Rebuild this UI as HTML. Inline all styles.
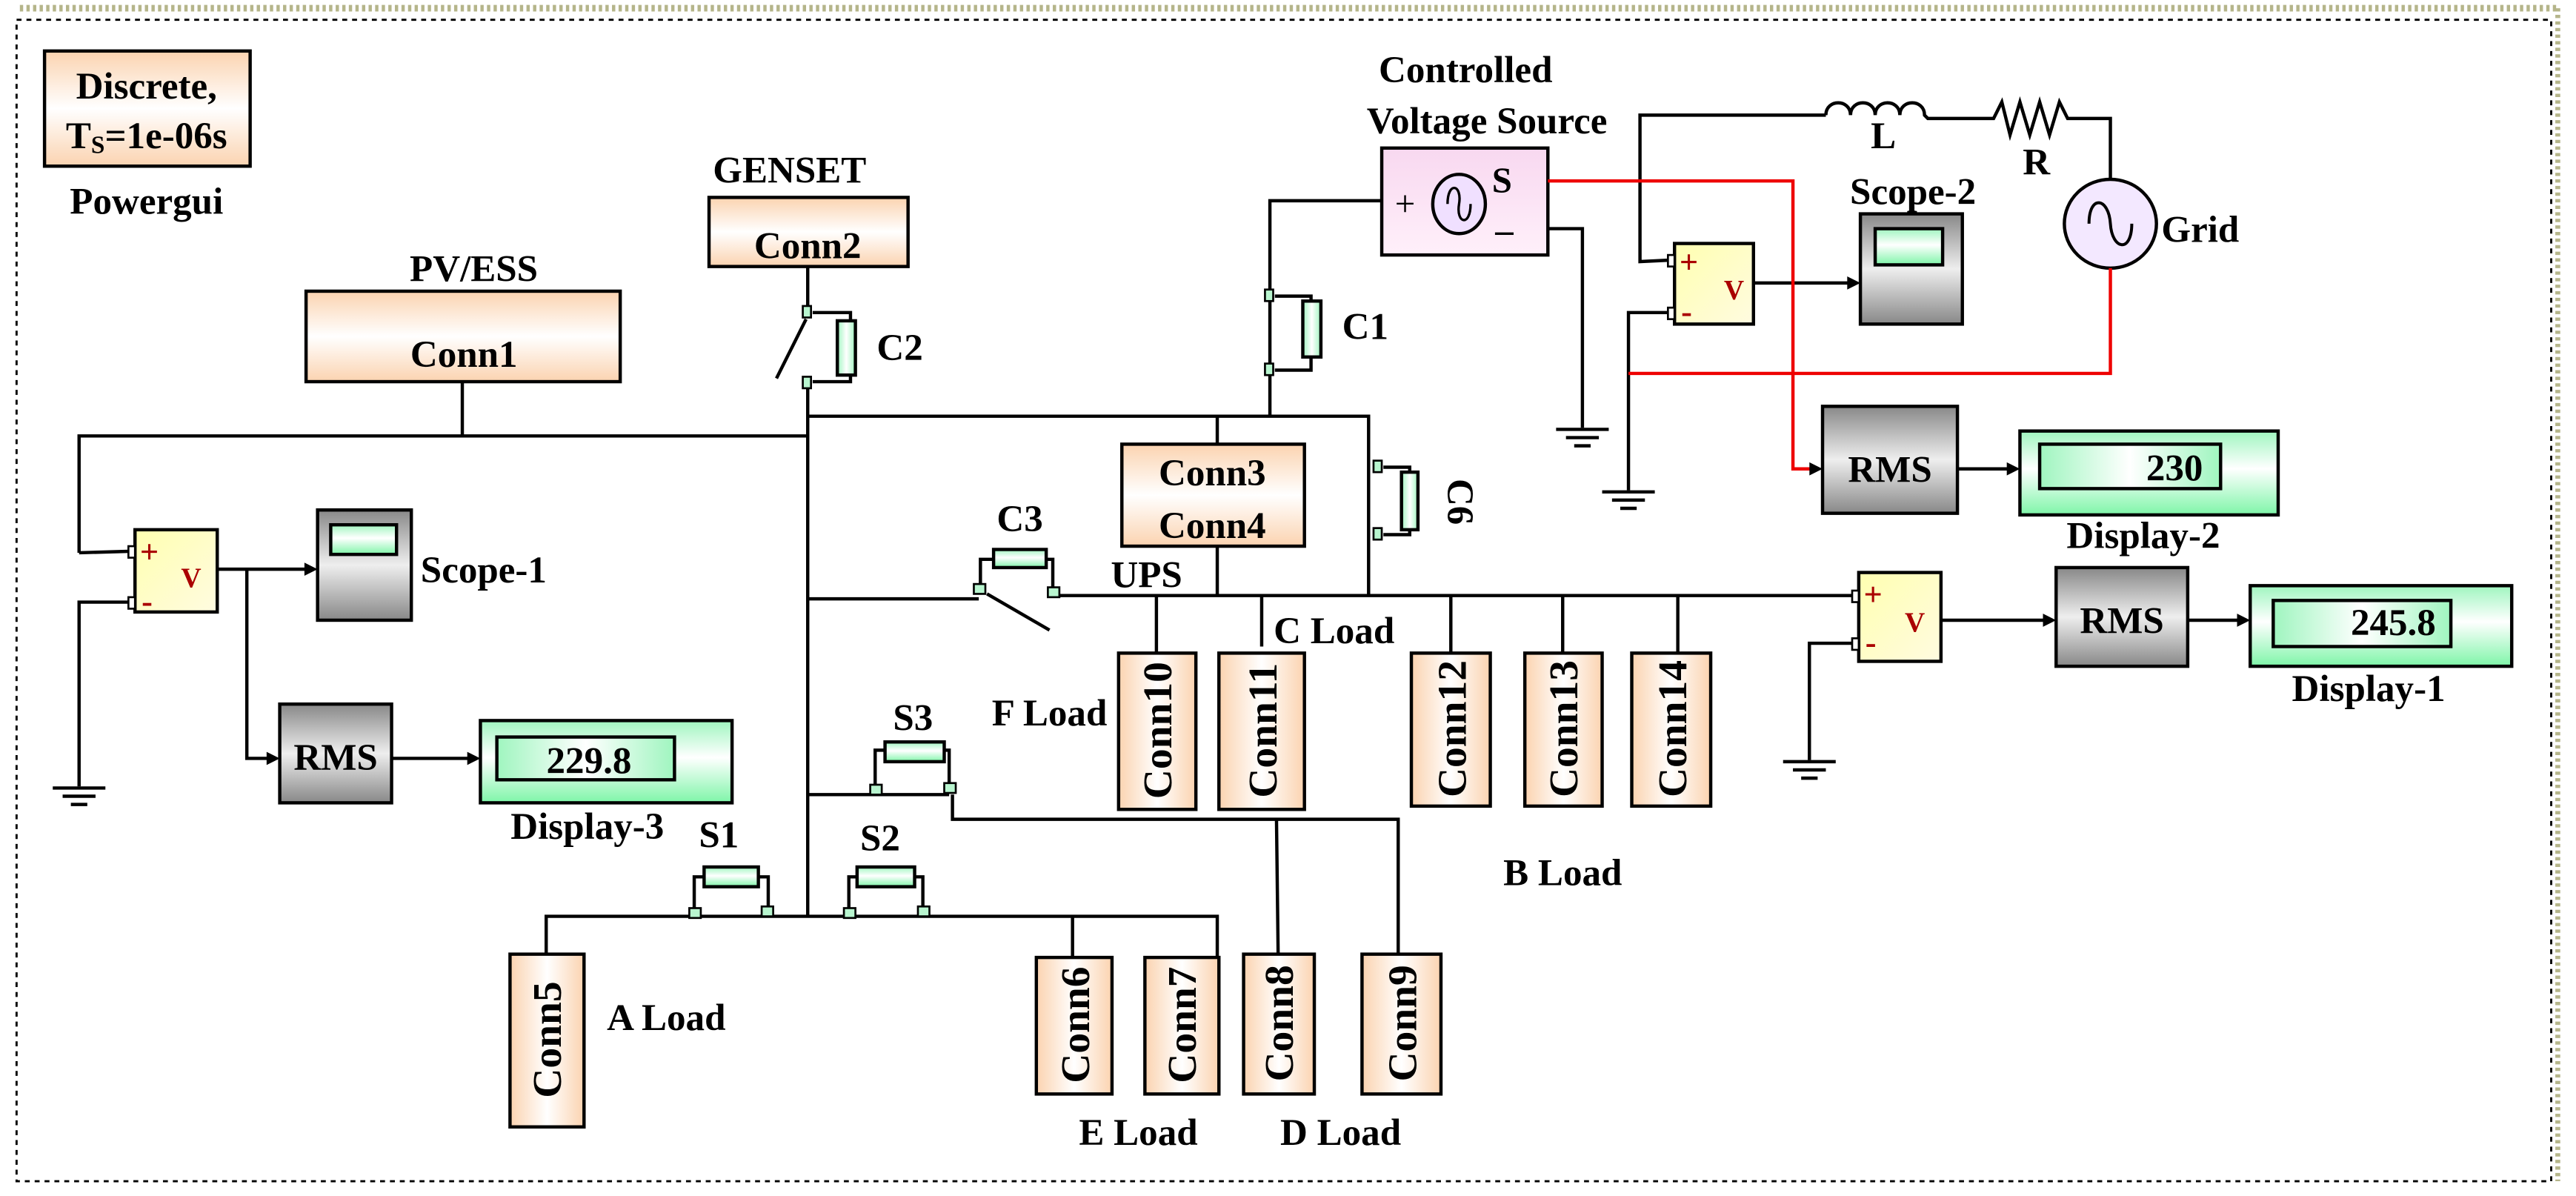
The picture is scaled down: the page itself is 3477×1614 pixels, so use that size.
<!DOCTYPE html>
<html><head><meta charset="utf-8"><style>
html,body{margin:0;padding:0;background:#fff;}
svg{display:block;}
text{font-family:"Liberation Serif",serif;font-weight:bold;fill:#000;}
</style></head><body>
<svg width="3477" height="1614" viewBox="0 0 1566 727" xmlns="http://www.w3.org/2000/svg">
<defs>
<linearGradient id="peach" x1="0" y1="0" x2="0" y2="1"><stop offset="0" stop-color="#fbd3b0"/><stop offset="0.5" stop-color="#fff"/><stop offset="1" stop-color="#fbd3b0"/></linearGradient>
<linearGradient id="peachH" x1="0" y1="0" x2="1" y2="0"><stop offset="0" stop-color="#fbd3b0"/><stop offset="0.5" stop-color="#fff"/><stop offset="1" stop-color="#fbd3b0"/></linearGradient>
<linearGradient id="green" x1="0" y1="0" x2="0" y2="1"><stop offset="0" stop-color="#9ff5bf"/><stop offset="0.45" stop-color="#fff"/><stop offset="1" stop-color="#7ef5a8"/></linearGradient>
<linearGradient id="greenH" x1="0" y1="0" x2="1" y2="0"><stop offset="0" stop-color="#9ff5bf"/><stop offset="0.5" stop-color="#fff"/><stop offset="1" stop-color="#9ff5bf"/></linearGradient>
<linearGradient id="gray" x1="0" y1="0" x2="0" y2="1"><stop offset="0" stop-color="#888"/><stop offset="0.5" stop-color="#eee"/><stop offset="1" stop-color="#888"/></linearGradient>
<linearGradient id="yel" x1="0" y1="0" x2="1" y2="1"><stop offset="0" stop-color="#ffffb0"/><stop offset="1" stop-color="#fffbe0"/></linearGradient>
<linearGradient id="pink" x1="0" y1="0" x2="0" y2="1"><stop offset="0" stop-color="#f8d8f0"/><stop offset="1" stop-color="#fff0fa"/></linearGradient>
</defs>
<!-- borders -->
<line x1="12" y1="5" x2="1555" y2="5" stroke="#b5b58a" stroke-width="4" stroke-dasharray="2,2"/>
<line x1="1555" y1="5" x2="1555" y2="718" stroke="#b5b58a" stroke-width="3" stroke-dasharray="2,2"/>
<rect x="10" y="12" width="1541" height="706" fill="none" stroke="#000" stroke-width="1.3" stroke-dasharray="3,3"/>

<g stroke="#000" stroke-width="2" fill="none">
<rect x="27" y="31" width="125" height="70" fill="url(#peach)"/>
<rect x="186" y="177" width="191" height="55" fill="url(#peach)"/>
<rect x="431" y="120" width="121" height="42" fill="url(#peach)"/>
<polyline points="281,232 281,265"/>
<polyline points="48,336 48,265 491,265"/>
<line x1="48" y1="336" x2="82" y2="335"/>
<line x1="491" y1="162" x2="491" y2="186"/>
<line x1="490" y1="194" x2="472" y2="230"/>
<polyline points="494,190 517,190 517,195"/>
<polyline points="494,232 517,232 517,228"/>
<rect x="509" y="195" width="11" height="33" fill="url(#greenH)"/>
<line x1="491" y1="236" x2="491" y2="557"/>
<polyline points="491,253 832,253 832,362"/>
<polyline points="840,122 772,122 772,253"/>
<polyline points="775,180 797,180 797,183"/>
<polyline points="775,225 797,225 797,217"/>
<rect x="792" y="183" width="11" height="34" fill="url(#greenH)"/>
<rect x="840" y="90" width="101" height="65" fill="url(#pink)"/>
<ellipse cx="887" cy="124" rx="16" ry="18" fill="#f0e0ff"/>
<path d="M880,124 C880,110 889,112 887,124 C885,136 894,138 894,124" stroke-width="1.5"/>
<polyline points="941,139 962,139 962,260"/>
<polyline points="1018,158 997,159 997,70 1110,70"/>
<path d="M1110,70 C1110,60 1125,60 1125,70 C1125,60 1140,60 1140,70 C1140,60 1155,60 1155,70 C1155,60 1170,60 1170,70 L1172,72 1212,72 L1217,62 1222,82 1228,62 1234,82 1240,62 1246,82 1252,62 1257,72 1265,72 1283,72 1283,110"/>
<ellipse cx="1283" cy="136" rx="28" ry="27" fill="#f3e8ff"/>
<path d="M1270,136 C1270,118 1282,120 1283,136 C1284,152 1296,154 1296,136" stroke-width="1.8"/>
<polyline points="1018,190 990,190 990,298"/>
<rect x="1018" y="148" width="48" height="49" fill="url(#yel)"/>
<line x1="1066" y1="172" x2="1124" y2="172"/>
<rect x="1131" y="130" width="62" height="67" fill="url(#gray)"/>
<rect x="1140" y="139" width="41" height="22" fill="url(#green)"/>
<rect x="1108" y="247" width="82" height="65" fill="url(#gray)"/>
<line x1="1190" y1="285" x2="1222" y2="285"/>
<rect x="1228" y="262" width="157" height="51" fill="url(#green)"/>
<rect x="1240" y="270" width="110" height="27" fill="url(#greenH)"/>
<rect x="682" y="270" width="111" height="62" fill="url(#peach)"/>
<line x1="740" y1="253" x2="740" y2="270"/>
<line x1="740" y1="332" x2="740" y2="362"/>
<polyline points="841,284 857,284 857,287"/>
<polyline points="841,325 857,325 857,322"/>
<rect x="852" y="287" width="10" height="35" fill="url(#greenH)"/>
<line x1="491" y1="364" x2="595" y2="364"/>
<line x1="643" y1="362" x2="1130" y2="362"/>
<line x1="600" y1="361" x2="638" y2="383"/>
<polyline points="596,358 596,340 604,340"/>
<polyline points="640,358 640,340 636,340"/>
<rect x="604" y="334" width="32" height="11" fill="url(#green)"/>
<line x1="703" y1="362" x2="703" y2="397"/>
<line x1="767" y1="362" x2="767" y2="393"/>
<line x1="882" y1="362" x2="882" y2="397"/>
<line x1="950" y1="362" x2="950" y2="397"/>
<line x1="1020" y1="362" x2="1020" y2="397"/>
<rect x="680" y="397" width="47" height="95" fill="url(#peachH)"/>
<rect x="741" y="397" width="52" height="95" fill="url(#peachH)"/>
<rect x="858" y="397" width="48" height="93" fill="url(#peachH)"/>
<rect x="927" y="397" width="47" height="93" fill="url(#peachH)"/>
<rect x="992" y="397" width="48" height="93" fill="url(#peachH)"/>
<rect x="1130" y="348" width="50" height="54" fill="url(#yel)"/>
<polyline points="1130,391 1100,391 1100,462"/>
<line x1="1180" y1="377" x2="1244" y2="377"/>
<rect x="1250" y="345" width="80" height="60" fill="url(#gray)"/>
<line x1="1330" y1="377" x2="1362" y2="377"/>
<rect x="1368" y="356" width="159" height="49" fill="url(#green)"/>
<rect x="1382" y="365" width="108" height="28" fill="url(#greenH)"/>
<rect x="82" y="322" width="50" height="50" fill="url(#yel)"/>
<polyline points="82,366 48,366 48,478"/>
<line x1="132" y1="346" x2="187" y2="346"/>
<polyline points="150,346 150,461 164,461"/>
<rect x="193" y="310" width="57" height="67" fill="url(#gray)"/>
<rect x="201" y="319" width="40" height="18" fill="url(#green)"/>
<rect x="170" y="428" width="68" height="60" fill="url(#gray)"/>
<line x1="238" y1="461" x2="286" y2="461"/>
<rect x="292" y="438" width="153" height="50" fill="url(#green)"/>
<rect x="302" y="448" width="108" height="26" fill="url(#greenH)"/>
<line x1="491" y1="483" x2="577" y2="483"/>
<polyline points="532,478 532,456 538,456"/>
<polyline points="577,478 577,456 574,456"/>
<rect x="538" y="451" width="36" height="12" fill="url(#green)"/>
<polyline points="579,483 579,498 850,498 850,580"/>
<line x1="776" y1="498" x2="777" y2="580"/>
<rect x="756" y="580" width="43" height="85" fill="url(#peachH)"/>
<rect x="828" y="580" width="48" height="85" fill="url(#peachH)"/>
<polyline points="332,580 332,557 740,557 740,582"/>
<line x1="652" y1="557" x2="652" y2="582"/>
<polyline points="422,552 422,533 428,533"/>
<polyline points="467,552 467,533 461,533"/>
<rect x="428" y="527" width="33" height="12" fill="url(#green)"/>
<polyline points="516,552 516,533 521,533"/>
<polyline points="561,552 561,533 556,533"/>
<rect x="521" y="527" width="35" height="12" fill="url(#green)"/>
<rect x="310" y="580" width="45" height="105" fill="url(#peachH)"/>
<rect x="630" y="582" width="46" height="83" fill="url(#peachH)"/>
<rect x="696" y="582" width="45" height="83" fill="url(#peachH)"/>
</g>
<g stroke="#e00" stroke-width="2" fill="none">
<polyline points="941,110 1090,110 1090,285 1102,285"/>
<polyline points="990,227 1283,227 1283,163"/>
</g>
<g stroke="#000" stroke-width="1.2" fill="#b8f5cf">
<rect x="488" y="186" width="5" height="7"/><rect x="488" y="229" width="5" height="7"/>
<rect x="769" y="176" width="5" height="7"/><rect x="769" y="221" width="5" height="7"/>
<rect x="835" y="280" width="5" height="7"/><rect x="835" y="321" width="5" height="7"/>
<rect x="592" y="355" width="7" height="6"/><rect x="637" y="357" width="7" height="6"/>
<rect x="529" y="477" width="7" height="6"/><rect x="574" y="476" width="7" height="6"/>
<rect x="419" y="552" width="7" height="6"/><rect x="463" y="551" width="7" height="6"/>
<rect x="513" y="552" width="7" height="6"/><rect x="558" y="551" width="7" height="6"/>
<rect x="1014" y="155" width="4" height="7" fill="#fff"/><rect x="1014" y="187" width="4" height="7" fill="#fff"/>
<rect x="78" y="332" width="4" height="7" fill="#fff"/><rect x="78" y="363" width="4" height="7" fill="#fff"/>
<rect x="1126" y="359" width="4" height="7" fill="#fff"/><rect x="1126" y="388" width="4" height="7" fill="#fff"/>
</g>
<g fill="#000">
<path d="M1131,172 l-8,-4 v8z"/><path d="M1108,285 l-8,-4 v8z"/><path d="M1228,285 l-8,-4 v8z"/>
<path d="M1250,377 l-8,-4 v8z"/><path d="M1368,377 l-8,-4 v8z"/>
<path d="M193,346 l-8,-4 v8z"/><path d="M170,461 l-8,-4 v8z"/><path d="M292,461 l-8,-4 v8z"/>
</g>
<g stroke="#000" stroke-width="2">
<line x1="946" y1="261" x2="978" y2="261"/><line x1="952" y1="266" x2="972" y2="266"/><line x1="957" y1="271" x2="967" y2="271"/>
<line x1="974" y1="299" x2="1006" y2="299"/><line x1="980" y1="304" x2="1000" y2="304"/><line x1="985" y1="309" x2="995" y2="309"/>
<line x1="1084" y1="463" x2="1116" y2="463"/><line x1="1090" y1="468" x2="1110" y2="468"/><line x1="1095" y1="473" x2="1105" y2="473"/>
<line x1="32" y1="479" x2="64" y2="479"/><line x1="38" y1="484" x2="58" y2="484"/><line x1="43" y1="489" x2="53" y2="489"/>
</g>
<g font-size="20">
<text x="1021" y="166" style="fill:#a00">+</text><text x="1048" y="182" style="fill:#a00" font-size="17">V</text><text x="1022" y="196" style="fill:#a00">-</text>
<text x="85" y="342" style="fill:#a00">+</text><text x="110" y="357" style="fill:#a00" font-size="17">V</text><text x="86" y="372" style="fill:#a00">-</text>
<text x="1133" y="368" style="fill:#a00">+</text><text x="1158" y="384" style="fill:#a00" font-size="17">V</text><text x="1134" y="397" style="fill:#a00">-</text>
</g>
<text x="848" y="131" font-size="22" style="font-weight:normal">+</text>
<text x="907" y="117" font-size="22">S</text>
<text x="909" y="147" font-size="22">–</text>
<g font-size="23" text-anchor="middle">
<text x="89" y="60">Discrete,</text>
<text x="89" y="90">T<tspan font-size="15" dy="3">S</tspan><tspan dy="-3">=1e-06s</tspan></text>
<text x="89" y="130">Powergui</text>
<text x="288" y="171">PV/ESS</text>
<text x="282" y="223">Conn1</text>
<text x="480" y="111">GENSET</text>
<text x="491" y="157">Conn2</text>
<text x="547" y="219">C2</text>
<text x="830" y="206">C1</text>
<text x="891" y="50">Controlled</text>
<text x="904" y="81">Voltage Source</text>
<text x="1145" y="90">L</text>
<text x="1238" y="106">R</text>
<text x="1314" y="147" text-anchor="start">Grid</text>
<text x="1163" y="124">Scope-2</text>
<text x="1149" y="293">RMS</text>
<text x="1322" y="292">230</text>
<text x="1303" y="333">Display-2</text>
<text x="737" y="295">Conn3</text>
<text x="737" y="327">Conn4</text>
<text x="620" y="323">C3</text>
<text x="697" y="357">UPS</text>
<text x="811" y="391">C Load</text>
<text x="638" y="441">F Load</text>
<text x="950" y="538">B Load</text>
<text x="1290" y="385">RMS</text>
<text x="1455" y="386">245.8</text>
<text x="1440" y="426">Display-1</text>
<text x="294" y="354">Scope-1</text>
<text x="204" y="468">RMS</text>
<text x="358" y="470">229.8</text>
<text x="357" y="510">Display-3</text>
<text x="555" y="444">S3</text>
<text x="437" y="515">S1</text>
<text x="535" y="517">S2</text>
<text x="405" y="626">A Load</text>
<text x="692" y="696">E Load</text>
<text x="815" y="696">D Load</text>
</g>
<g font-size="25" text-anchor="middle">
<text transform="translate(880,305) rotate(90)" font-size="23">C6</text>
<text transform="translate(712,444) rotate(-90)">Conn10</text>
<text transform="translate(776,444) rotate(-90)">Conn11</text>
<text transform="translate(891,443) rotate(-90)">Conn12</text>
<text transform="translate(959,443) rotate(-90)">Conn13</text>
<text transform="translate(1025,443) rotate(-90)">Conn14</text>
<text transform="translate(341,632) rotate(-90)">Conn5</text>
<text transform="translate(662,623) rotate(-90)">Conn6</text>
<text transform="translate(727,623) rotate(-90)">Conn7</text>
<text transform="translate(786,622) rotate(-90)">Conn8</text>
<text transform="translate(861,622) rotate(-90)">Conn9</text>
</g>
</svg>
</body></html>
